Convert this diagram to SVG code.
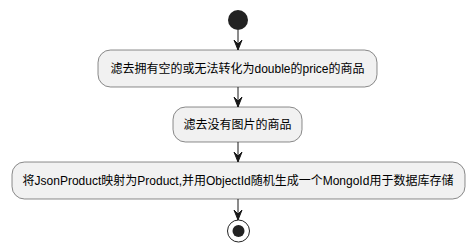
<svg xmlns="http://www.w3.org/2000/svg" width="475" height="251" viewBox="0 0 475 251">
  <style>
    .act { fill: #F1F1F1; stroke: #181818; stroke-width: 0.5; }
    .lbl { font-family: "Liberation Sans", "Noto Sans CJK SC", sans-serif; font-size: 12px; fill: #000000; text-anchor: middle; }
    .flow { stroke: #181818; stroke-width: 1; fill: none; }
    .head { fill: #181818; stroke: #181818; stroke-width: 1; }
  </style>
  <defs>
    <polygon id="arrowhead" class="head" points="-4,-10 0,0 4,-10 0,-6"/>
  </defs>
  <rect width="475" height="251" fill="#FFFFFF"/>

  <g id="start">
    <circle cx="238" cy="20" r="10" fill="#222222"/>
  </g>

  <g id="step1">
    <rect class="act" x="98" y="50" width="279" height="37" rx="12.5" ry="12.5"/>
    <text class="lbl" x="237.5" y="73">滤去拥有空的或无法转化为double的price的商品</text>
  </g>

  <g id="step2">
    <rect class="act" x="173" y="107" width="129" height="35" rx="12.5" ry="12.5"/>
    <text class="lbl" x="237.5" y="129">滤去没有图片的商品</text>
  </g>

  <g id="step3">
    <rect class="act" x="12" y="162" width="453" height="37" rx="12.5" ry="12.5"/>
    <text class="lbl" x="238" y="185">将JsonProduct映射为Product,并用ObjectId随机生成一个MongoId用于数据库存储</text>
  </g>

  <g id="stop">
    <circle cx="238.5" cy="231" r="11" fill="none" stroke="#222222" stroke-width="1"/>
    <circle cx="238.5" cy="231" r="6" fill="#222222"/>
  </g>

  <g id="connectors">
    <line class="flow" x1="238" y1="30" x2="238" y2="50"/>
    <use href="#arrowhead" x="238" y="50"/>
    <line class="flow" x1="238" y1="87" x2="238" y2="107"/>
    <use href="#arrowhead" x="238" y="107"/>
    <line class="flow" x1="238" y1="142" x2="238" y2="162"/>
    <use href="#arrowhead" x="238" y="162"/>
    <line class="flow" x1="238" y1="199" x2="238" y2="220"/>
    <use href="#arrowhead" x="238" y="220"/>
  </g>
</svg>
